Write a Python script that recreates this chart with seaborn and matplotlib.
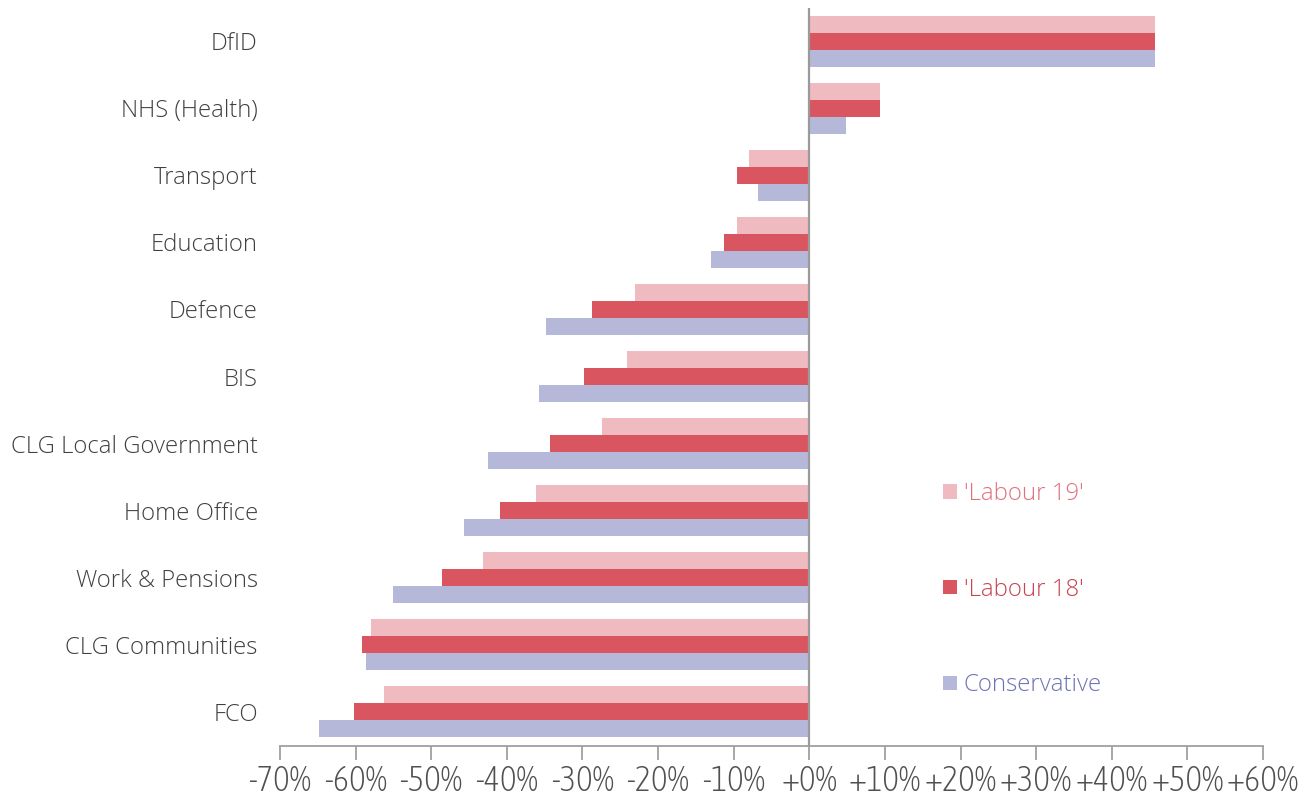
import matplotlib
matplotlib.use("Agg")
import matplotlib.pyplot as plt
import seaborn as sns
import pandas as pd
from matplotlib import font_manager

departments = ["DfID", "NHS (Health)", "Transport", "Education", "Defence", "BIS",
               "CLG Local Government", "Home Office", "Work & Pensions",
               "CLG Communities", "FCO"]
labour19 = [45.7, 9.3, -8.0, -9.5, -23.1, -24.1, -27.4, -36.2, -43.2, -58.0, -56.2]
labour18 = [45.7, 9.3, -9.5, -11.3, -28.8, -29.8, -34.3, -40.9, -48.6, -59.2, -60.2]
conservative = [45.7, 4.9, -6.8, -13.0, -34.8, -35.7, -42.5, -45.7, -55.1, -58.6, -64.8]
series_names = ["'Labour 19'", "'Labour 18'", "Conservative"]
x_ticks = [-70, -60, -50, -40, -30, -20, -10, 0, 10, 20, 30, 40, 50, 60]
x_tick_labels = ["-70%", "-60%", "-50%", "-40%", "-30%", "-20%", "-10%",
                 "+0%", "+10%", "+20%", "+30%", "+40%", "+50%", "+60%"]

colors = ["#EFBBC0", "#D95661", "#B5B8D8"]
text_colors = ["#E0707C", "#C8424F", "#6C72B3"]

df = pd.DataFrame({
    "dept": departments * 3,
    "value": labour19 + labour18 + conservative,
    "series": [series_names[0]] * 11 + [series_names[1]] * 11 + [series_names[2]] * 11,
})

# find a condensed face for the x tick labels, if any is installed
cond_stretch = {"condensed", "semi-condensed", "extra-condensed", "ultra-condensed"}
cond = [f for f in font_manager.fontManager.ttflist
        if (str(f.stretch) in cond_stretch or "Condensed" in f.name or "Narrow" in f.name
            or "Condensed" in f.fname or "Narrow" in f.fname)]
cond_light = [f for f in cond if f.weight in (200, 300, "light", "extra light")]
if cond:
    pick = (cond_light or [f for f in cond if f.weight in (400, "normal", "regular")] or cond)[0]
    tick_font = dict(fontfamily=pick.name, fontstretch=pick.stretch,
                     fontweight=pick.weight, fontsize=25)
else:
    tick_font = dict(fontfamily=["Open Sans", "DejaVu Sans"], fontsize=18, fontweight="light")

sns.set_theme(style="white")
plt.rcParams["font.family"] = ["Open Sans", "DejaVu Sans"]

fig = plt.figure(figsize=(13.16, 7.94), dpi=100)
ax = fig.add_axes([280 / 1316, 1 - 745.5 / 794, (1263 - 280) / 1316, (745.5 - 7.5) / 794])

sns.barplot(data=df, y="dept", x="value", hue="series", order=departments,
            hue_order=series_names, palette=colors, orient="h", width=0.76,
            gap=0, linewidth=0, saturation=1, ax=ax)

ax.set_xlim(-70, 60)
ax.set_ylim(10.5, -0.5)
ax.axvline(0, color="#9A9A9A", lw=1.6, zorder=5)

for s in ["top", "right", "left"]:
    ax.spines[s].set_visible(False)
ax.spines["bottom"].set_color("#A0A0A0")
ax.spines["bottom"].set_linewidth(1.3)

ax.set_xticks(x_ticks, x_tick_labels, color="#505050", **tick_font)
ax.tick_params(axis="x", direction="out", length=10, width=1.3, color="#A0A0A0",
               pad=3, bottom=True)
ax.tick_params(axis="y", length=0, pad=16, labelsize=17.2, labelcolor="#404040")
for lbl in ax.get_yticklabels():
    lbl.set_fontweight("light")
ax.set_xlabel("")
ax.set_ylabel("")

handles, labels = ax.get_legend_handles_labels()
leg = ax.legend(handles, labels, loc="upper left", bbox_to_anchor=(0.665, 0.370),
                frameon=False, prop={"size": 17.3, "weight": "light"},
                handlelength=0.55, handleheight=0.55,
                handletextpad=0.3, labelspacing=2.98, borderaxespad=0)
for t, c in zip(leg.get_texts(), text_colors):
    t.set_color(c)

fig.savefig("out.png", dpi=100)
